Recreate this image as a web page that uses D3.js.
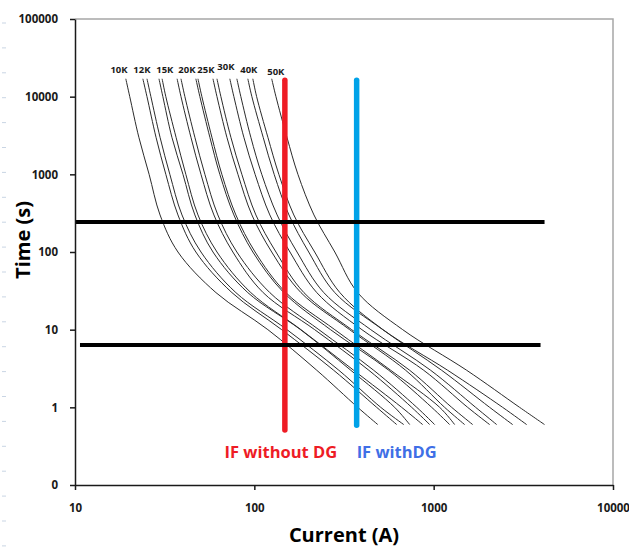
<!DOCTYPE html>
<html>
<head>
<meta charset="utf-8">
<script src="https://cdn.jsdelivr.net/npm/d3@7"></script>
<style>
  html, body { margin: 0; padding: 0; background: #fff; }
  svg { display: block; }
  text { font-family: "Open Sans", "Liberation Sans", sans-serif; }
</style>
</head>
<body>
<svg id="chart" width="629" height="548"></svg>
<script>
// Time levels (s) at which each fuse curve is tabulated
const timePoints = [17000, 10000, 3000, 1000, 300, 100, 30, 10, 3, 1, 0.6];

// Current (A) for each fuse curve at the time levels above, left to right
const fuseCurrents = [
  [19.2, 20.2, 22.7, 25.9, 29.8, 37.5, 61.1, 119, 223, 377, 488],
  [23.9, 25.2, 28.3, 32.1, 37.5, 47.2, 75.0, 142, 277, 481, 622],
  [25.2, 26.5, 29.8, 33.8, 39.5, 50.4, 78.9, 152, 296, 507, 681],
  [29.4, 30.9, 34.7, 40.0, 46.6, 58.8, 92.0, 181, 345, 606, 735],
  [30.6, 32.1, 36.6, 41.5, 48.5, 61.9, 95.6, 182, 358, 663, 868],
  [37.1, 39.0, 44.3, 50.4, 59.5, 75.9, 112, 217, 435, 754, 950],
  [39.0, 41.0, 46.6, 53.0, 62.6, 79.9, 122, 229, 463, 805, 1013],
  [47.2, 49.7, 56.5, 64.2, 76.9, 98.1, 146, 266, 562, 975, 1228],
  [48.5, 51.0, 58.0, 65.9, 78.9, 101, 150, 281, 576, 1080, 1309],
  [58.8, 61.9, 70.3, 81.0, 96.9, 125, 182, 340, 698, 1151, 1488],
  [61.9, 65.1, 74.0, 85.2, 102, 132, 189, 349, 735, 1260, 1650],
  [73.0, 76.9, 87.4, 101, 122, 158, 223, 398, 880, 1547, 2051],
  [79.9, 84.1, 95.6, 110, 134, 173, 244, 446, 962, 1714, 2245],
  [92.0, 96.9, 112, 129, 156, 201, 281, 520, 1108, 2051, 2756],
  [98.1, 103, 119, 137, 166, 217, 300, 522, 1197, 2424, 3298],
  [125, 132, 152, 175, 215, 281, 377, 672, 1528, 3013, 4152]
];

// Fuse rating labels and where they sit (current A, time s)
const fuseLabels = ["10K", "12K", "15K", "20K", "25K", "30K", "40K", "50K"];
const fuseLabelCurrents = [17.6, 23.6, 31.7, 42.1, 53.7, 69.4, 93.2, 131.8];
const fuseLabelTimes = [22600, 22600, 22600, 22600, 22600, 24500, 22600, 21000];

// Fault currents (A) and their vertical extent (s)
const faultNames = ["IF without DG", "IF withDG"];
const faultCurrents = [148, 372];
const faultTop = [16300, 16300];
const faultBottom = [0.51, 0.59];
const faultColors = ["#ee1c25", "#00a2e8"];
const faultTextColors = ["#ee1c25", "#3f6fe6"];

// Horizontal time limits (s) and their current extent (A)
const limitTimes = [243, 6.33];
const limitStart = [10, 10.66];
const limitEnd = [4152, 3944];

// Axis ticks
const xTicks = [10, 100, 1000, 10000];
const xTickLabels = ["10", "100", "1000", "10000"];
const yTicks = [0.1, 1, 10, 100, 1000, 10000, 100000];
const yTickLabels = ["0", "1", "10", "100", "1000", "10000", "100000"];

const svg = d3.select("#chart");
const plotL = 75, plotR = 613, plotT = 19, plotB = 485;

const x = d3.scaleLog().domain([10, 10000]).range([plotL, plotR]);
const y = d3.scaleLog().domain([0.1, 100000]).range([plotB, plotT]);

// faint ruler marks along the left page edge
svg.append("g")
  .selectAll("line")
  .data(d3.range(23, 548, 24.9))
  .join("line")
  .attr("x1", 2).attr("x2", 6)
  .attr("y1", d => d).attr("y2", d => d)
  .attr("stroke", "#c9d5e4").attr("stroke-width", 1);

// plot frame (top and right)
svg.append("path")
  .attr("d", `M${plotL},${plotT}H${plotR}V${plotB}`)
  .attr("fill", "none")
  .attr("stroke", "#a6a6a6")
  .attr("stroke-width", 1.5);

// fuse curves
const line = d3.line()
  .x(d => x(d[0]))
  .y(d => y(d[1]))
  .curve(d3.curveCatmullRom.alpha(0.5));

svg.append("g")
  .selectAll("path")
  .data(fuseCurrents)
  .join("path")
  .attr("d", c => line(c.map((v, i) => [v, timePoints[i]])))
  .attr("fill", "none")
  .attr("stroke", "#2b2b2b")
  .attr("stroke-width", 1);

// fuse labels
svg.append("g")
  .selectAll("text")
  .data(fuseLabels)
  .join("text")
  .attr("x", (d, i) => x(fuseLabelCurrents[i]))
  .attr("y", (d, i) => y(fuseLabelTimes[i]))
  .attr("text-anchor", "middle")
  .attr("dominant-baseline", "central")
  .attr("font-size", 9.5)
  .attr("font-weight", "bold")
  .attr("fill", "#1a1a1a")
  .text(d => d);

// fault current markers
svg.append("g")
  .selectAll("line")
  .data(faultCurrents)
  .join("line")
  .attr("x1", d => x(d)).attr("x2", d => x(d))
  .attr("y1", (d, i) => y(faultTop[i]))
  .attr("y2", (d, i) => y(faultBottom[i]))
  .attr("stroke", (d, i) => faultColors[i])
  .attr("stroke-width", 5.5)
  .attr("stroke-linecap", "round");

// horizontal time limits
svg.append("g")
  .selectAll("line")
  .data(limitTimes)
  .join("line")
  .attr("x1", (d, i) => x(limitStart[i]))
  .attr("x2", (d, i) => x(limitEnd[i]))
  .attr("y1", d => y(d)).attr("y2", d => y(d))
  .attr("stroke", "#000")
  .attr("stroke-width", 4);

// fault labels
svg.append("g")
  .selectAll("text")
  .data(faultNames)
  .join("text")
  .attr("x", (d, i) => i === 0 ? x(faultCurrents[i]) - 4 : x(faultCurrents[i]))
  .attr("y", 458)
  .attr("text-anchor", (d, i) => i === 0 ? "middle" : "start")
  .attr("font-size", 16.5)
  .attr("font-weight", "bold")
  .attr("fill", (d, i) => faultTextColors[i])
  .text(d => d);

// axes
const xAxis = d3.axisBottom(x)
  .tickValues(xTicks)
  .tickFormat((d, i) => xTickLabels[i])
  .tickSizeInner(5).tickSizeOuter(0)
  .tickPadding(14);
const yAxis = d3.axisLeft(y)
  .tickValues(yTicks)
  .tickFormat((d, i) => yTickLabels[i])
  .tickSizeInner(5).tickSizeOuter(0)
  .tickPadding(12);

const gx = svg.append("g").attr("transform", `translate(0,${plotB})`).call(xAxis);
const gy = svg.append("g").attr("transform", `translate(${plotL},0)`).call(yAxis);

[gx, gy].forEach(g => {
  g.select(".domain").attr("stroke", "#1a1a1a").attr("stroke-width", 1.5);
  g.selectAll(".tick line").attr("stroke", "#1a1a1a").attr("stroke-width", 1.5);
  g.selectAll(".tick text")
    .attr("font-family", "'Open Sans', 'Liberation Sans', sans-serif")
    .attr("font-size", 11.5)
    .attr("font-weight", "bold")
    .attr("fill", "#1a1a1a");
});

// axis titles
svg.append("text")
  .attr("transform", "translate(30,240) rotate(-90)")
  .attr("text-anchor", "middle")
  .attr("font-size", 20)
  .attr("font-weight", "bold")
  .attr("fill", "#000")
  .text("Time (s)");

svg.append("text")
  .attr("x", 344)
  .attr("y", 542)
  .attr("text-anchor", "middle")
  .attr("font-size", 20)
  .attr("font-weight", "bold")
  .attr("fill", "#000")
  .text("Current (A)");
</script>
</body>
</html>
